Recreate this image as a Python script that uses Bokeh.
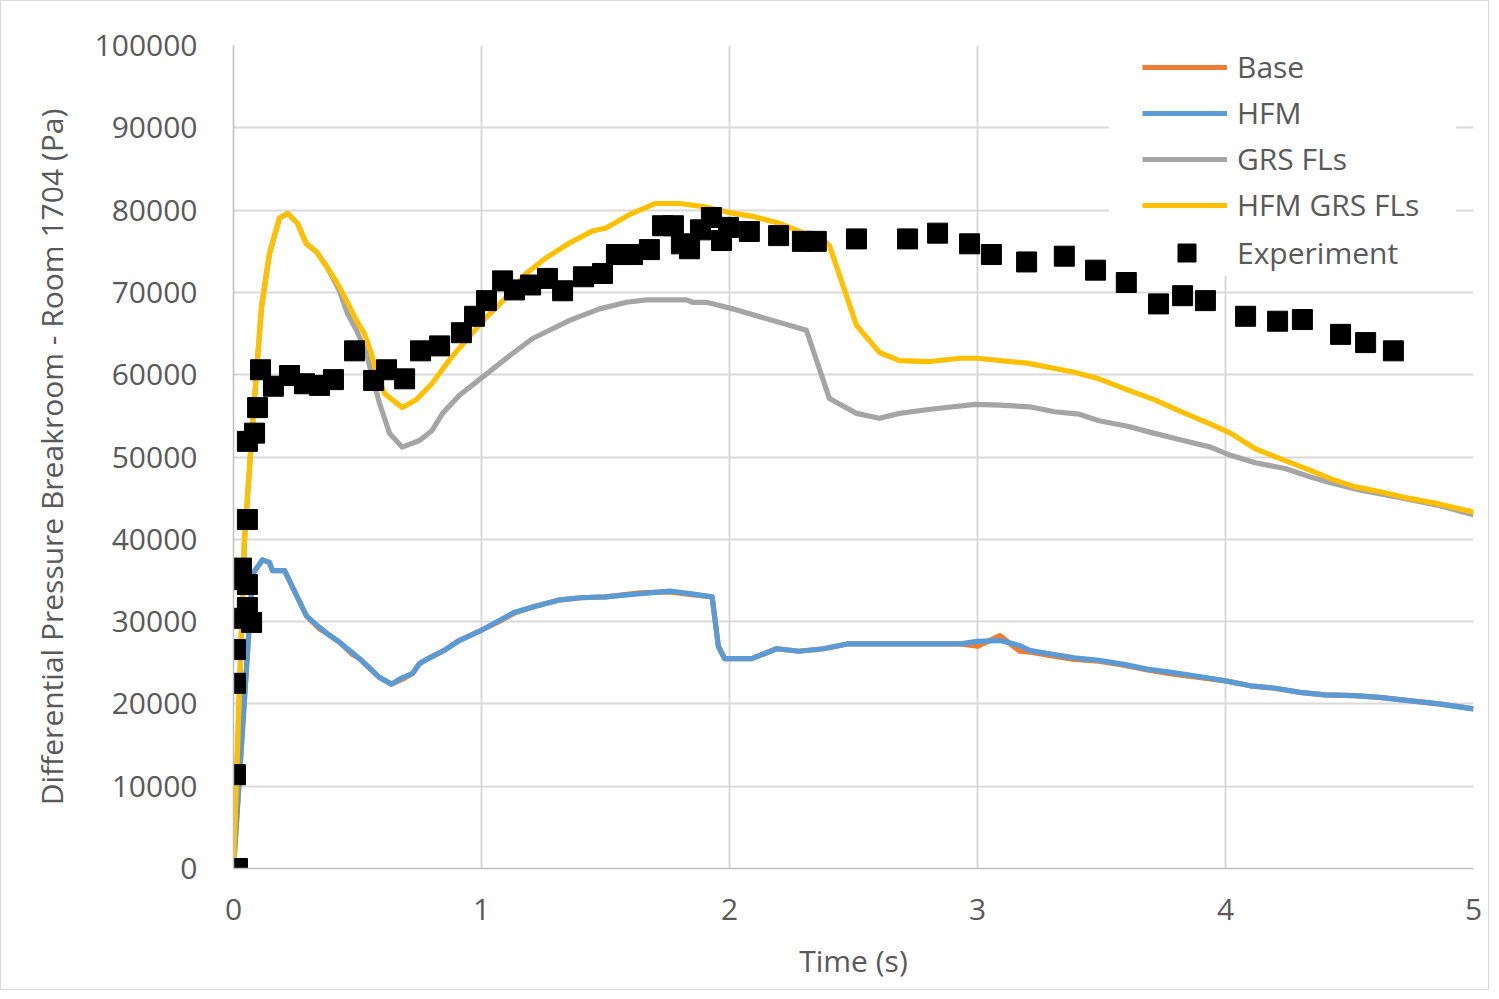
from bokeh.plotting import figure
from bokeh.models import (Range1d, FixedTicker, BasicTickFormatter, Legend, LegendItem, BoxAnnotation)
from bokeh.embed import file_html
from bokeh.resources import INLINE

# ---------------- data ----------------
base_t = [0, 0.077, 0.117, 0.145, 0.157, 0.206, 0.254, 0.294, 0.347, 0.375, 0.427, 0.48, 0.508,
          0.536, 0.589, 0.637, 0.681, 0.722, 0.75, 0.79, 0.85, 0.91, 0.99, 1.07, 1.13, 1.21, 1.31,
          1.4, 1.5, 1.64, 1.76, 1.84, 1.93, 1.955, 1.98, 2.09, 2.19, 2.28, 2.38, 2.48, 2.69, 2.93,
          3.0, 3.09, 3.17, 3.21, 3.29, 3.39, 3.49, 3.59, 3.69, 3.79, 3.9, 4.0, 4.1, 4.2, 4.3, 4.4,
          4.52, 4.62, 4.74, 4.86, 5.0]
base_p = [0, 35800, 37500, 37200, 36200, 36200, 33200, 30700, 29100, 28600, 27500, 26000, 25500,
          24700, 23200, 22400, 23000, 23700, 24900, 25600, 26500, 27700, 28800, 30000, 31000, 31800, 32600,
          32900, 33000, 33500, 33600, 33300, 33000, 27000, 25500, 25500, 26700, 26400, 26700, 27300, 27300, 27300,
          27000, 28300, 26400, 26300, 25900, 25400, 25200, 24700, 24100, 23600, 23200, 22800, 22200, 21900, 21400, 21100,
          21000, 20800, 20400, 20000, 19400]

hfm_t = [0, 0.077, 0.117, 0.145, 0.157, 0.206, 0.254, 0.294, 0.347, 0.375, 0.427, 0.48, 0.508,
         0.536, 0.589, 0.637, 0.681, 0.722, 0.75, 0.79, 0.85, 0.91, 0.99, 1.07, 1.13, 1.21, 1.31,
         1.4, 1.5, 1.64, 1.76, 1.84, 1.93, 1.955, 1.98, 2.09, 2.19, 2.28, 2.38, 2.48, 2.69, 2.93,
         3.0, 3.09, 3.17, 3.21, 3.29, 3.39, 3.49, 3.59, 3.69, 3.79, 3.9, 4.0, 4.1, 4.2, 4.3, 4.4,
         4.52, 4.62, 4.74, 4.86, 5.0]
hfm_p = [0, 35800, 37500, 37200, 36200, 36200, 33200, 30700, 29300, 28600, 27500, 26200, 25500,
         24700, 23200, 22400, 23200, 23700, 24900, 25600, 26500, 27700, 28800, 30100, 31100, 31800, 32600,
         32900, 33000, 33400, 33700, 33400, 33000, 27000, 25500, 25500, 26700, 26400, 26700, 27300, 27300, 27300,
         27600, 27700, 27100, 26500, 26100, 25600, 25300, 24800, 24200, 23800, 23300, 22800, 22200, 21900, 21400, 21100,
         21000, 20800, 20400, 20000, 19400]

grs_t = [0, 0.044, 0.077, 0.113, 0.145, 0.185, 0.218, 0.258, 0.294, 0.335, 0.379, 0.427, 0.46,
         0.496, 0.536, 0.56, 0.589, 0.629, 0.68, 0.75, 0.8, 0.843, 0.911, 1.004, 1.113, 1.206, 1.274,
         1.355, 1.476, 1.585, 1.665, 1.827, 1.851, 1.907, 1.96, 2.012, 2.31, 2.403, 2.512, 2.605,
         2.685, 2.81, 2.99, 3.09, 3.21, 3.31, 3.41, 3.49, 3.61, 3.71, 3.83, 3.94, 4.02, 4.12, 4.24,
         4.34, 4.42, 4.54, 4.7, 4.86, 5.0]
grs_p = [0, 39800, 54000, 68200, 74700, 79000, 79600, 78400, 75900, 74900, 73000, 70200, 67400,
         65400, 62600, 59700, 56500, 52900, 51200, 52000, 53200, 55300, 57500, 59700, 62300, 64400, 65400,
         66600, 68000, 68800, 69100, 69100, 68800, 68800, 68400, 68000, 65400, 57100, 55300, 54700,
         55300, 55800, 56400, 56300, 56100, 55500, 55200, 54400, 53700, 52900, 52000, 51200, 50200, 49300, 48600,
         47600, 46900, 46000, 45100, 44100, 43000]

hfm_grs_t = [0, 0.044, 0.077, 0.113, 0.145, 0.185, 0.218, 0.258, 0.294, 0.335, 0.379, 0.419, 0.456,
             0.496, 0.528, 0.556, 0.577, 0.609, 0.681, 0.738, 0.80, 0.871, 0.938, 1.02, 1.1, 1.18, 1.26,
             1.355, 1.45, 1.5, 1.6, 1.7, 1.8, 1.9, 2.0, 2.1, 2.2, 2.3, 2.38, 2.403, 2.512, 2.605, 2.685,
             2.81, 2.93, 3.0, 3.2, 3.39, 3.49, 3.61, 3.71, 3.83, 3.94, 4.02, 4.12, 4.22, 4.34, 4.42,
             4.52, 4.62, 4.72, 4.86, 5.0]
hfm_grs_p = [0, 39800, 54000, 68200, 74700, 79000, 79600, 78400, 75900, 74900, 73000, 71100, 69000,
             66600, 65000, 62600, 60100, 57700, 56000, 57000, 58900, 61800, 64200, 67000, 69400, 72300, 74200,
             76000, 77500, 77800, 79500, 80800, 80800, 80400, 79700, 79200, 78400, 77200, 76300, 75700, 66000, 62700, 61700,
             61600, 62000, 62000, 61400, 60300, 59500, 58100, 57000, 55400, 54000, 52900, 51000, 49800, 48400, 47400,
             46400, 45800, 45100, 44300, 43300]

exp_t = [0.016, 0.008, 0.008, 0.008, 0.008, 0.073, 0.056, 0.056, 0.016, 0.032, 0.056, 0.056, 0.085,
         0.097, 0.109, 0.161, 0.226, 0.286, 0.347, 0.403, 0.488, 0.565, 0.617, 0.69, 0.754, 0.831,
         0.919, 0.972, 1.02, 1.085, 1.133, 1.198, 1.266, 1.327, 1.411, 1.488, 1.544, 1.609, 1.677,
         1.73, 1.774, 1.806, 1.839, 1.883, 1.927, 1.968, 1.996, 2.08, 2.198, 2.294, 2.35, 2.512,
         2.718, 2.839, 2.968, 3.056, 3.198, 3.35, 3.476, 3.6, 3.73, 3.827, 3.919, 4.081, 4.21, 4.31,
         4.464, 4.565, 4.677]
exp_p = [0, 11400, 22500, 26600, 30400, 29900, 31700, 34500, 35100, 36500, 42400, 51900, 52900,
         56000, 60600, 58600, 59900, 58900, 58700, 59400, 62900, 59300, 60600, 59500, 62900, 63500,
         65100, 67100, 69000, 71400, 70300, 70900, 71700, 70200, 71900, 72300, 74600, 74600, 75200,
         78100, 78100, 75900, 75300, 77600, 79100, 76300, 77900, 77400, 76900, 76200, 76200, 76500,
         76500, 77200, 75900, 74600, 73700, 74400, 72700, 71200, 68600, 69600, 69000, 67100, 66500, 66700,
         64900, 63900, 62900]

x_ticks = [0, 1, 2, 3, 4, 5]
y_ticks = [0, 10000, 20000, 30000, 40000, 50000, 60000, 70000, 80000, 90000, 100000]

FONT = "Open Sans"
TXT = "#595959"
GRID = "#D9D9D9"
FS = "30px"

p = figure(width=1489, height=990, output_backend="svg", toolbar_location=None,
           x_range=Range1d(0, 5), y_range=Range1d(0, 100000),
           min_border_left=232, min_border_top=44, min_border_right=17, min_border_bottom=123)
p.outline_line_color = None
p.background_fill_color = "white"
p.styles = {"border": "1px solid #D9D9D9"}

p.xaxis.ticker = FixedTicker(ticks=x_ticks)
p.yaxis.ticker = FixedTicker(ticks=y_ticks)
p.yaxis.formatter = BasicTickFormatter(use_scientific=False)
for ax in (p.xaxis, p.yaxis):
    ax.major_tick_line_color = None
    ax.minor_tick_line_color = None
    ax.axis_line_color = "#BFBFBF"
    ax.axis_line_width = 1.5
    ax.major_label_text_font = FONT
    ax.major_label_text_font_size = FS
    ax.major_label_text_color = TXT
    ax.axis_label_text_font = FONT
    ax.axis_label_text_font_size = FS
    ax.axis_label_text_color = TXT
    ax.axis_label_text_font_style = "normal"
p.xaxis.major_label_standoff = 24
p.yaxis.major_label_standoff = 30
p.xaxis.axis_label = "Time (s)"
p.yaxis.axis_label = "Differential Pressure Breakroom - Room 1704 (Pa)"
p.xaxis.axis_label_standoff = 17
p.yaxis.axis_label_standoff = 20

p.xgrid.grid_line_color = GRID
p.ygrid.grid_line_color = GRID
p.xgrid.grid_line_width = 2
p.ygrid.grid_line_width = 2

# white area behind the legend (hides gridlines like the reference)
p.add_layout(BoxAnnotation(left=3.53, right=4.93, bottom=72000, top=101000,
                           fill_color="white", fill_alpha=1.0, line_color=None, level="underlay"))

LW = 5.2
r_base = p.line(base_t, base_p, line_color="#ED7D31", line_width=LW, line_join="round")
r_hfm = p.line(hfm_t, hfm_p, line_color="#5B9BD5", line_width=LW, line_join="round")
r_grs = p.line(grs_t, grs_p, line_color="#A5A5A5", line_width=LW, line_join="round")
r_hg = p.line(hfm_grs_t, hfm_grs_p, line_color="#FFC000", line_width=LW, line_join="round")
r_exp = p.scatter(exp_t, exp_p, marker="square", size=20, fill_color="black", line_color="black",
                  line_width=1)

legend = Legend(items=[
    LegendItem(label="Base", renderers=[r_base]),
    LegendItem(label="HFM", renderers=[r_hfm]),
    LegendItem(label="GRS FLs", renderers=[r_grs]),
    LegendItem(label="HFM GRS FLs", renderers=[r_hg]),
], location=(909, 643))
legend2 = Legend(items=[LegendItem(label="Experiment", renderers=[r_exp])], location=(931, 593))
for lg in (legend, legend2):
    lg.label_text_font = FONT
    lg.label_text_font_size = FS
    lg.label_text_color = TXT
    lg.label_height = 36
    lg.spacing = 5
    lg.padding = 10
    lg.margin = 0
    lg.border_line_color = None
    lg.background_fill_alpha = 0.0
legend.glyph_width = 85
legend.glyph_height = 20
legend.label_standoff = 10
legend2.glyph_width = 45
legend2.glyph_height = 45
legend2.label_standoff = 28
p.add_layout(legend)
p.add_layout(legend2)

open("out.html", "w").write(file_html(p, INLINE))
